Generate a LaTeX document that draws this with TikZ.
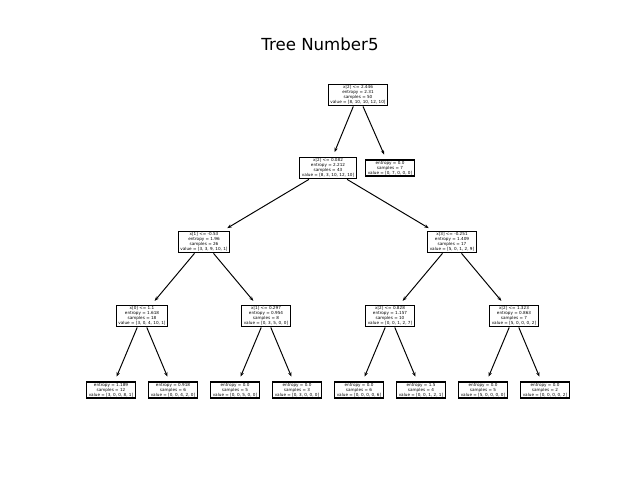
\documentclass[tikz,border=0pt]{standalone}
\usepackage{fontspec}
\setmainfont{DejaVu Sans}
\usepackage{tikz}
\usetikzlibrary{arrows.meta}
\newcommand{\treebox}[4]{ \node[box] (#1) at ( #2 , #3 ) {#4};}
\newcommand{\treeedge}[2]{ \draw[edge] (#1) -- (#2);}

\begin{document}
\begin{tikzpicture}[x=0.01in, y=-0.01in,
        box/.style={draw, line width=1pt, fill=white, align=center, inner xsep=1.6pt, inner ysep=1pt, font=\fontsize{3}{3.6}\selectfont},
        edge/.style={-{Stealth[length=3.2pt,width=2.4pt]}, line width=0.7pt, shorten >=3.5pt}]
        \useasboundingbox (0,0) rectangle (640,480);
        \node[font=\fontsize{12}{14}\selectfont] (title) at (320,44) {Tree Number5};
        \treebox{n0}{358}{95}{x[2] <= 2.446\\entropy = 2.31\\samples = 50\\value = [8, 10, 10, 12, 10]}
        \treebox{n1}{328}{168}{x[2] <= 0.082\\entropy = 2.212\\samples = 43\\value = [8, 3, 10, 12, 10]}
        \treebox{n2}{390}{168}{entropy = 0.0\\samples = 7\\value = [0, 7, 0, 0, 0]}
        \treebox{n3}{204}{242}{x[1] <= -0.53\\entropy = 1.96\\samples = 26\\value = [3, 3, 9, 10, 1]}
        \treebox{n4}{452}{242}{x[3] <= -0.251\\entropy = 1.409\\samples = 17\\value = [5, 0, 1, 2, 9]}
        \treebox{n5}{142}{316}{x[0] <= 1.1\\entropy = 1.618\\samples = 18\\value = [3, 0, 4, 10, 1]}
        \treebox{n6}{266}{316}{x[1] <= 0.297\\entropy = 0.954\\samples = 8\\value = [0, 3, 5, 0, 0]}
        \treebox{n7}{390}{316}{x[2] <= 0.828\\entropy = 1.157\\samples = 10\\value = [0, 0, 1, 2, 7]}
        \treebox{n8}{514}{316}{x[2] <= 1.323\\entropy = 0.863\\samples = 7\\value = [5, 0, 0, 0, 2]}
        \treebox{n9}{111}{390}{entropy = 1.189\\samples = 12\\value = [3, 0, 0, 8, 1]}
        \treebox{n10}{173}{390}{entropy = 0.918\\samples = 6\\value = [0, 0, 4, 2, 0]}
        \treebox{n11}{235}{390}{entropy = 0.0\\samples = 5\\value = [0, 0, 5, 0, 0]}
        \treebox{n12}{297}{390}{entropy = 0.0\\samples = 3\\value = [0, 3, 0, 0, 0]}
        \treebox{n13}{359}{390}{entropy = 0.0\\samples = 6\\value = [0, 0, 0, 0, 6]}
        \treebox{n14}{421}{390}{entropy = 1.5\\samples = 4\\value = [0, 0, 1, 2, 1]}
        \treebox{n15}{483}{390}{entropy = 0.0\\samples = 5\\value = [5, 0, 0, 0, 0]}
        \treebox{n16}{545}{390}{entropy = 0.0\\samples = 2\\value = [0, 0, 0, 0, 2]}
        \treeedge{n0}{n1}
        \treeedge{n0}{n2}
        \treeedge{n1}{n3}
        \treeedge{n1}{n4}
        \treeedge{n3}{n5}
        \treeedge{n3}{n6}
        \treeedge{n4}{n7}
        \treeedge{n4}{n8}
        \treeedge{n5}{n9}
        \treeedge{n5}{n10}
        \treeedge{n6}{n11}
        \treeedge{n6}{n12}
        \treeedge{n7}{n13}
        \treeedge{n7}{n14}
        \treeedge{n8}{n15}
        \treeedge{n8}{n16}
    \end{tikzpicture}
\end{document}
